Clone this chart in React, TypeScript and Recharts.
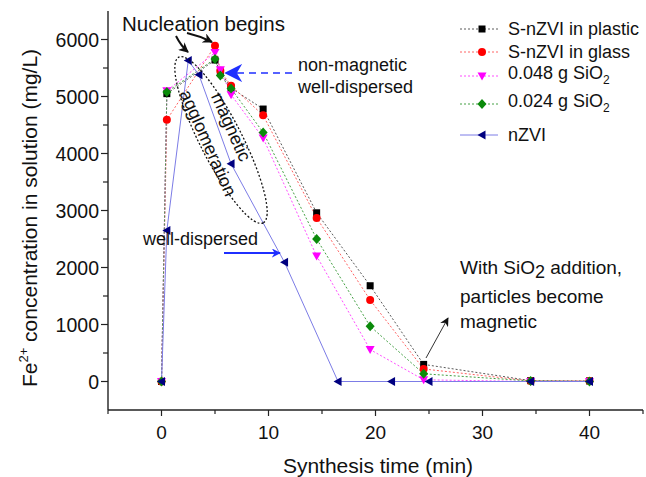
import React from "react"
import { ComposedChart, Line, XAxis, YAxis, Legend } from "recharts"

// synthesis time (min) for the S-nZVI / SiO2 runs
const sTime = [0, 0.5, 5, 5.5, 6.5, 9.5, 14.5, 19.5, 24.5, 34.5, 40]
const plasticFe = [0, 5050, 5640, 5430, 5150, 4780, 2960, 1680, 300, 15, 10]
const glassFe = [0, 4590, 5890, 5450, 5190, 4670, 2870, 1430, 220, 10, 10]
const sio048Fe = [0, 5100, 5770, 5470, 5030, 4270, 2200, 560, 30, 0, 0]
const sio024Fe = [0, 5080, 5660, 5370, 5140, 4370, 2500, 970, 135, 10, 0]

// plain nZVI run
const nzviTime = [0, 0.5, 2.5, 3.5, 6.5, 11.5, 16.5, 21.5, 25, 34.5, 40]
const nzviFe = [0, 2650, 5630, 5380, 3820, 2090, 0, 0, 0, 0, 0]

const xTicks = [-5, 0, 5, 10, 15, 20, 25, 30, 35, 40, 45]
const yTicks = [0, 500, 1000, 1500, 2000, 2500, 3000, 3500, 4000, 4500, 5000, 5500, 6000]

const FONT = "'Liberation Sans', Arial, sans-serif"

const toPoints = (t: number[], v: number[]) => t.map((x, i) => ({ t: x, fe: v[i] }))

type Shape = "square" | "circle" | "down" | "diamond" | "left"

const series: Array<{
  name: string
  label: React.ReactNode
  data: Array<{ t: number; fe: number }>
  line: string
  fill: string
  shape: Shape
  dash?: string
}> = [
  { name: "plastic", label: "S-nZVI in plastic", data: toPoints(sTime, plasticFe), line: "#5a5a5a", fill: "#000000", shape: "square", dash: "2 2" },
  { name: "glass", label: "S-nZVI in glass", data: toPoints(sTime, glassFe), line: "#ff6464", fill: "#ff0000", shape: "circle", dash: "2 2" },
  {
    name: "sio048",
    label: (
      <>
        0.048 g SiO<sub style={{ fontSize: 12 }}>2</sub>
      </>
    ),
    data: toPoints(sTime, sio048Fe),
    line: "#ff4cff",
    fill: "#ff00ff",
    shape: "down",
    dash: "2 2",
  },
  {
    name: "sio024",
    label: (
      <>
        0.024 g SiO<sub style={{ fontSize: 12 }}>2</sub>
      </>
    ),
    data: toPoints(sTime, sio024Fe),
    line: "#44a044",
    fill: "#0a8a0a",
    shape: "diamond",
    dash: "2 2",
  },
  { name: "nzvi", label: "nZVI", data: toPoints(nzviTime, nzviFe), line: "#7c7ce6", fill: "#000080", shape: "left" },
]

// legend row centres, relative to the legend box
const legendRows = [12, 35, 59, 87, 118]

function Marker({ shape, cx, cy, fill }: { shape: Shape; cx: number; cy: number; fill: string }) {
  if (cx == null || cy == null) return null
  switch (shape) {
    case "square":
      return <rect x={cx - 3.5} y={cy - 3.5} width={7} height={7} fill={fill} />
    case "circle":
      return <circle cx={cx} cy={cy} r={4} fill={fill} />
    case "down":
      return <path d={`M${cx - 4.5},${cy - 3.5}L${cx + 4.5},${cy - 3.5}L${cx},${cy + 4.5}Z`} fill={fill} />
    case "diamond":
      return <path d={`M${cx},${cy - 5}L${cx + 4.5},${cy}L${cx},${cy + 5}L${cx - 4.5},${cy}Z`} fill={fill} />
    default:
      return <path d={`M${cx - 4.5},${cy}L${cx + 3.5},${cy - 4.5}L${cx + 3.5},${cy + 4.5}Z`} fill={fill} />
  }
}

const XTick = ({ x, y, payload }: any) => {
  const major = payload.value % 10 === 0
  return (
    <g>
      <line x1={x} x2={x} y1={y} y2={y + (major ? 6 : 4)} stroke="#222" strokeWidth={1.2} />
      {major && (
        <text x={x} y={y + 29} textAnchor="middle" fontSize={19} fill="#111" fontFamily={FONT}>
          {payload.value}
        </text>
      )}
    </g>
  )
}

const YTick = ({ x, y, payload }: any) => {
  const major = payload.value % 1000 === 0
  return (
    <g>
      <line x1={x - (major ? 7 : 5)} x2={x} y1={y} y2={y} stroke="#222" strokeWidth={1.2} />
      {major && (
        <text x={x - 9} y={y + 7} textAnchor="end" fontSize={19.5} fill="#111" fontFamily={FONT}>
          {payload.value}
        </text>
      )}
    </g>
  )
}

const LegendBox = () => (
  <div style={{ position: "relative", width: 190, height: 140, fontFamily: FONT, fontSize: 18, color: "#111" }}>
    {series.map((s, i) => (
      <div
        key={s.name}
        style={{ position: "absolute", left: 0, top: legendRows[i] - 12, height: 24, display: "flex", alignItems: "center" }}
      >
        <svg width={48} height={14} style={{ flex: "none" }}>
          <line x1={0} x2={38} y1={7} y2={7} stroke={s.line} strokeWidth={1} strokeDasharray={s.dash} />
          <Marker shape={s.shape} cx={22} cy={7} fill={s.fill} />
        </svg>
        <span style={{ whiteSpace: "nowrap", lineHeight: "24px" }}>{s.label}</span>
      </div>
    ))}
  </div>
)

const Annotations = () => (
  <svg
    width={646}
    height={477}
    style={{ position: "absolute", left: 0, top: 0, pointerEvents: "none", fontFamily: FONT }}
  >
    <defs>
      <marker id="arrBlack" viewBox="0 0 10 10" refX={9} refY={5} markerWidth={5} markerHeight={5} orient="auto">
        <path d="M0,0L10,5L0,10L3,5Z" fill="#111" />
      </marker>
      <marker id="arrThin" viewBox="0 0 10 10" refX={9} refY={5} markerWidth={9} markerHeight={9} orient="auto">
        <path d="M0,0L10,5L0,10L3,5Z" fill="#111" />
      </marker>
      <marker id="arrBlue" viewBox="0 0 10 10" refX={9} refY={5} markerWidth={9} markerHeight={9} orient="auto" markerUnits="userSpaceOnUse">
        <path d="M0,0L10,5L0,10L3,5Z" fill="#1f2fff" />
      </marker>
      <marker id="arrBlueBig" viewBox="0 0 10 10" refX={9} refY={5} markerWidth={18} markerHeight={18} orient="auto" markerUnits="userSpaceOnUse">
        <path d="M0,0L10,5L0,10L3,5Z" fill="#1f2fff" />
      </marker>
    </defs>

    {/* axis titles */}
    <text x={378} y={473} textAnchor="middle" fontSize={21} fill="#111">
      Synthesis time (min)
    </text>
    <text transform="translate(37 218) rotate(-90)" textAnchor="middle" fontSize={21} fill="#111">
      Fe<tspan dy={-9} fontSize={13}>2+</tspan>
      <tspan dy={9}> concentration in solution (mg/L)</tspan>
    </text>

    {/* nucleation */}
    <text x={122} y={31} fontSize={20.5} fill="#111">
      Nucleation begins
    </text>
    <path d="M176,36 Q181,46 188,52" fill="none" stroke="#111" strokeWidth={2} markerEnd="url(#arrBlack)" />
    <path d="M187,33 Q200,36 212,42" fill="none" stroke="#111" strokeWidth={2} markerEnd="url(#arrBlack)" />

    {/* non-magnetic */}
    <text x={298} y={71} fontSize={18} fill="#111">
      non-magnetic
    </text>
    <text x={298} y={93} fontSize={18} fill="#111">
      well-dispersed
    </text>
    <line x1={292} y1={73} x2={226} y2={73} stroke="#1f2fff" strokeWidth={1.6} strokeDasharray="7 5" markerEnd="url(#arrBlueBig)" />

    {/* magnetic agglomeration */}
    <ellipse cx={221} cy={140} rx={93} ry={21} transform="rotate(63 221 140)" fill="none" stroke="#111" strokeWidth={1.3} strokeDasharray="2 2" />
    <text x={231} y={127} fontSize={18} fill="#111" textAnchor="middle" dominantBaseline="central" transform="rotate(66 231 127)">
      magnetic
    </text>
    <text x={208} y={143} fontSize={18} fill="#111" textAnchor="middle" dominantBaseline="central" transform="rotate(66 208 143)">
      agglomeration
    </text>

    {/* well-dispersed */}
    <text x={143} y={245} fontSize={18} fill="#111">
      well-dispersed
    </text>
    <line x1={224} y1={253} x2={280} y2={253} stroke="#1f2fff" strokeWidth={2} markerEnd="url(#arrBlue)" />

    {/* SiO2 */}
    <text x={460} y={274} fontSize={19} fill="#111">
      With SiO<tspan dy={4} fontSize={18}>2</tspan>
      <tspan dy={-4}> addition,</tspan>
    </text>
    <text x={460} y={303} fontSize={19} fill="#111">
      particles become
    </text>
    <text x={460} y={328} fontSize={19} fill="#111">
      magnetic
    </text>
    <line x1={426} y1={358} x2={448} y2={318} stroke="#333" strokeWidth={1} markerEnd="url(#arrThin)" />
  </svg>
)

export default function App() {
  return (
    <div style={{ position: "absolute", left: 0, top: 0, width: 646, height: 477, background: "#fff", fontFamily: FONT }}>
      <ComposedChart width={646} height={477} margin={{ top: 11, right: 3, left: 0, bottom: 0 }}>
        <XAxis
          dataKey="t"
          type="number"
          domain={[-5, 45]}
          ticks={xTicks}
          interval={0}
          height={67}
          tickSize={0}
          tickMargin={0}
          tickLine={false}
          tick={<XTick />}
          axisLine={{ stroke: "#222", strokeWidth: 1.4 }}
          allowDataOverflow
        />
        <XAxis
          xAxisId="top"
          orientation="top"
          type="number"
          domain={[-5, 45]}
          height={0}
          tick={false}
          tickLine={false}
          axisLine={{ stroke: "#222", strokeWidth: 1.4 }}
        />
        <YAxis
          type="number"
          domain={[-500, 6500]}
          ticks={yTicks}
          interval={0}
          width={108}
          tickSize={0}
          tickMargin={0}
          tickLine={false}
          tick={<YTick />}
          axisLine={{ stroke: "#222", strokeWidth: 1.4 }}
          allowDataOverflow
        />
        <YAxis
          yAxisId="right"
          orientation="right"
          type="number"
          domain={[-500, 6500]}
          width={0}
          tick={false}
          tickLine={false}
          axisLine={{ stroke: "#222", strokeWidth: 1.4 }}
        />
        <Legend
          layout="vertical"
          align="center"
          verticalAlign="middle"
          content={() => <LegendBox />}
          wrapperStyle={{ position: "absolute", left: 460, top: 17, width: 190 }}
        />
        {series.map((s) => (
          <Line
            key={s.name}
            name={s.name}
            data={s.data}
            dataKey="fe"
            type="linear"
            stroke={s.line}
            strokeWidth={1}
            strokeDasharray={s.dash}
            isAnimationActive={false}
            dot={(p: any) => <Marker key={`${s.name}-${p.index}`} shape={s.shape} cx={p.cx} cy={p.cy} fill={s.fill} />}
            activeDot={false}
          />
        ))}
      </ComposedChart>
      <Annotations />
    </div>
  )
}
